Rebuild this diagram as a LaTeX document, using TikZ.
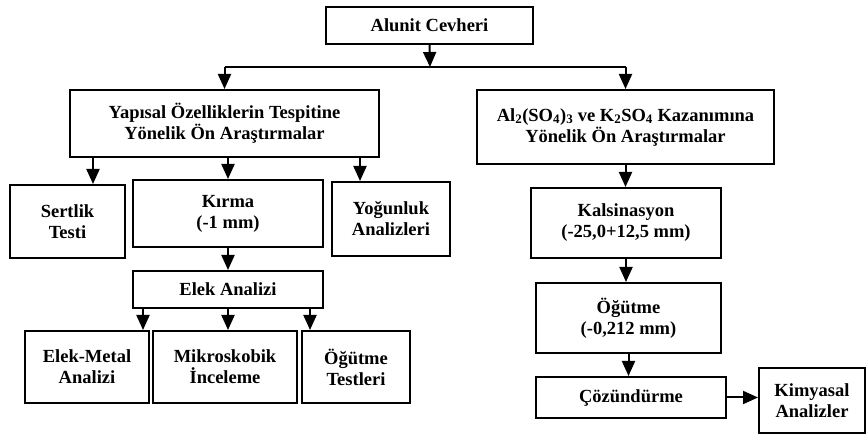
\documentclass[tikz,border=0pt]{standalone}
\usepackage{fontspec}
\setmainfont{Liberation Serif}
\usetikzlibrary{arrows.meta}
\begin{document}
\begin{tikzpicture}[x=1pt,y=-1pt,
  box/.style={draw,line width=2pt,align=center,inner sep=0pt,
    font=\bfseries\fontsize{18.5}{21}\selectfont},
  link/.style={line width=2pt},
  arr/.style={line width=2pt,-{Triangle[width=13pt,length=15pt]}}]
\useasboundingbox (0,0) rectangle (868,435);
% nodes
\node[box,minimum width=207pt,minimum height=37pt] (alunit) at (429.5,25.5) {Alunit Cevheri};
\node[box,minimum width=309pt,minimum height=67pt] (yap) at (224.5,123.5) {Yapısal Özelliklerin Tespitine\\Yönelik Ön Araştırmalar};
\node[box,minimum width=297pt,minimum height=74pt] (al) at (625.5,127) {Al\textsubscript{2}(SO\textsubscript{4})\textsubscript{3} ve K\textsubscript{2}SO\textsubscript{4} Kazanımına\\Yönelik Ön Araştırmalar};
\node[box,minimum width=115pt,minimum height=73pt] (sert) at (67.5,221.5) {Sertlik\\Testi};
\node[box,minimum width=190pt,minimum height=67pt] (kirma) at (228,213.5) {Kırma\\(-1 mm)};
\node[box,minimum width=118pt,minimum height=74pt] (yog) at (391,219) {Yoğunluk\\Analizleri};
\node[box,minimum width=190pt,minimum height=37pt] (elek) at (228,289.5) {Elek Analizi};
\node[box,minimum width=124pt,minimum height=72pt] (em) at (87,367) {Elek-Metal\\Analizi};
\node[box,minimum width=144pt,minimum height=72pt] (mik) at (225,367) {Mikroskobik\\İnceleme};
\node[box,minimum width=108pt,minimum height=72pt] (ogt) at (356,367) {Öğütme\\Testleri};
\node[box,minimum width=190pt,minimum height=70pt] (kal) at (626,223) {Kalsinasyon\\(-25,0+12,5 mm)};
\node[box,minimum width=185pt,minimum height=70pt] (og) at (628.5,318) {Öğütme\\(-0,212 mm)};
\node[box,minimum width=190pt,minimum height=41pt] (coz) at (631,397.5) {Çözündürme};
\node[box,minimum width=106pt,minimum height=65pt] (kim) at (812,400.5) {Kimyasal\\Analizler};
% top split
\coordinate (j) at (430,67);
\coordinate (jl) at (yap.north |- j);
\coordinate (jr) at (al.north |- j);
\draw[arr] (alunit.south) -- (j);
\draw[link] (jl) -- (jr);
\draw[arr] (jl) -- (yap.north);
\draw[arr] (jr) -- (al.north);
% left branch
\coordinate (s1) at ([xshift=25.5pt]sert.north);
\coordinate (s3) at ([xshift=-31pt]yog.north);
\draw[arr] (yap.south -| s1) -- (s1);
\draw[arr] (yap.south -| kirma.north) -- (kirma.north);
\draw[arr] (yap.south -| s3) -- (s3);
\draw[arr] (kirma.south) -- (elek.north);
\coordinate (e1) at ([xshift=56pt]em.north);
\coordinate (e3) at ([xshift=-46pt]ogt.north);
\draw[arr] (elek.south -| e1) -- (e1);
\draw[arr] (elek.south) -- (elek.south |- mik.north);
\draw[arr] (elek.south -| e3) -- (e3);
% right branch
\draw[arr] (al.south) -- (al.south |- kal.north);
\draw[arr] (kal.south) -- (kal.south |- og.north);
\draw[arr] (og.south) -- (og.south |- coz.north);
\draw[arr] (coz.east) -- (kim.west |- coz.east);
\end{tikzpicture}
\end{document}
